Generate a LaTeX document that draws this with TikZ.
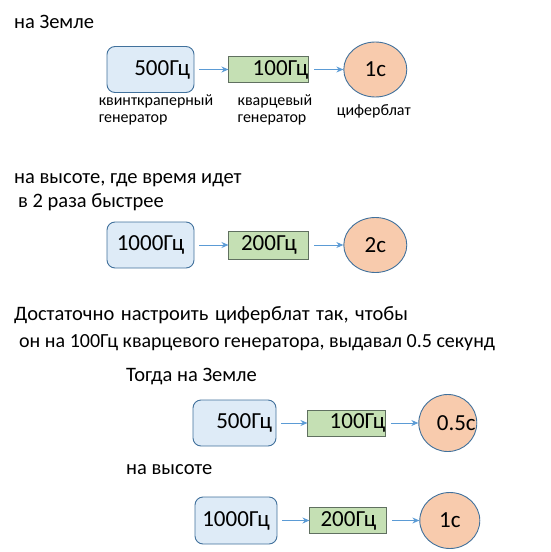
\documentclass[tikz,border=0pt]{standalone}
\usepackage{fontspec}
\setmainfont{Carlito}
\usepackage{tikz}
\usetikzlibrary{arrows.meta, positioning, shapes.geometric}

\definecolor{genfill}{RGB}{222,235,247}
\definecolor{genline}{RGB}{65,113,156}
\definecolor{qfill}{RGB}{197,224,180}
\definecolor{qline}{RGB}{96,112,96}
\definecolor{dialfill}{RGB}{248,203,173}
\definecolor{arrblue}{RGB}{91,155,213}

\begin{document}
\begin{tikzpicture}[
  x=1pt, y=-1pt,
  gen/.style   = {draw=genline, fill=genfill, rounded corners=8pt, line width=0.9pt,
                  minimum width=87pt, minimum height=46pt, inner xsep=4pt,
                  font=\fontsize{23}{25}\selectfont},
  quartz/.style = {draw=qline, fill=qfill, line width=0.9pt, inner sep=0pt,
                  minimum width=80pt, minimum height=26pt,
                  font=\fontsize{23}{25}\selectfont},
  dial/.style  = {draw=genline, fill=dialfill, ellipse, line width=0.9pt, inner sep=0pt,
                  minimum width=63pt, minimum height=55pt,
                  font=\fontsize{23}{25}\selectfont},
  head/.style  = {anchor=west, inner sep=0pt, font=\fontsize{20.5}{24}\selectfont},
  lbl/.style   = {anchor=north west, inner sep=0pt, align=left,
                  font=\fontsize{16}{18}\selectfont},
  arr/.style   = {-{Stealth[length=7pt, width=6pt]}, draw=arrblue, line width=1pt,
                  shorten <=5pt},
]
\useasboundingbox (0,0) rectangle (550,552);

% ── на Земле ────────────────────────────────────────────────────────────
\node[head] (t1) at (14,22) {на Земле};
\node[gen, text width=79pt, align=right] (g1) at (150.5,69.5) {500Гц};
\node[quartz, right=34pt of g1, text width=79pt, align=right] (q1) {100Гц};
\node[dial, right=34pt of q1] (d1) {1с};
\node[lbl] (lg1) at ([xshift=-8pt,yshift=-2pt]g1.south west) {квинткраперный\\[-1pt]генератор};
\node[lbl] (lq1) at ([xshift=9pt,yshift=-12pt]q1.south west) {кварцевый\\[-1pt]генератор};
\node[lbl] (ld1) at ([xshift=-16pt,yshift=-15pt]d1.south west) {циферблат};

% ── на высоте ──────────────────────────────────────────────────────────
\node[head] (t2) at (14,180) {на высоте, где время идет};
\node[head] (t3) at (18,202) {в 2 раза быстрее};
\node[gen] (g2) at (150.5,245) {1000Гц};
\node[quartz, right=34pt of g2, minimum height=28pt] (q2) {200Гц};
\node[dial, right=34pt of q2] (d2) {2с};

% ── настройка ──────────────────────────────────────────────────────────
\node[head] (t4) at (14,315)
  {\spaceskip=0.32em\relax Достаточно настроить циферблат так, чтобы};
\node[head, font=\fontsize{20}{24}\selectfont] (t5) at (19,343)
  {он на 100Гц кварцевого генератора, выдавал 0.5 секунд};
\node[head] (t6) at (126,377) {Тогда на Земле};
\node[gen, minimum width=83pt, text width=75pt, align=right] (g3) at (234.5,423) {500Гц};
\node[quartz, right=31pt of g3, minimum width=78pt, text width=77pt, align=right] (q3) {100Гц};
\node[dial, right=32pt of q3, minimum width=58pt, minimum height=57pt] (d3)
  {\makebox[0pt]{\hspace{17pt}0.5с}};

\node[head] (t7) at (126,470) {на высоте};
\node[gen, minimum width=82pt, minimum height=47pt] (g4) at (236,520.5) {1000Гц};
\node[quartz, right=32pt of g4, minimum width=77pt] (q4) {200Гц};
\node[dial, right=32pt of q4, minimum width=60pt, minimum height=56pt] (d4) {1с};

\foreach \a/\b in {g1/q1, q1/d1, g2/q2, q2/d2, g3/q3, q3/d3, g4/q4, q4/d4}
  \draw[arr] (\a) -- (\b);
\end{tikzpicture}
\end{document}
